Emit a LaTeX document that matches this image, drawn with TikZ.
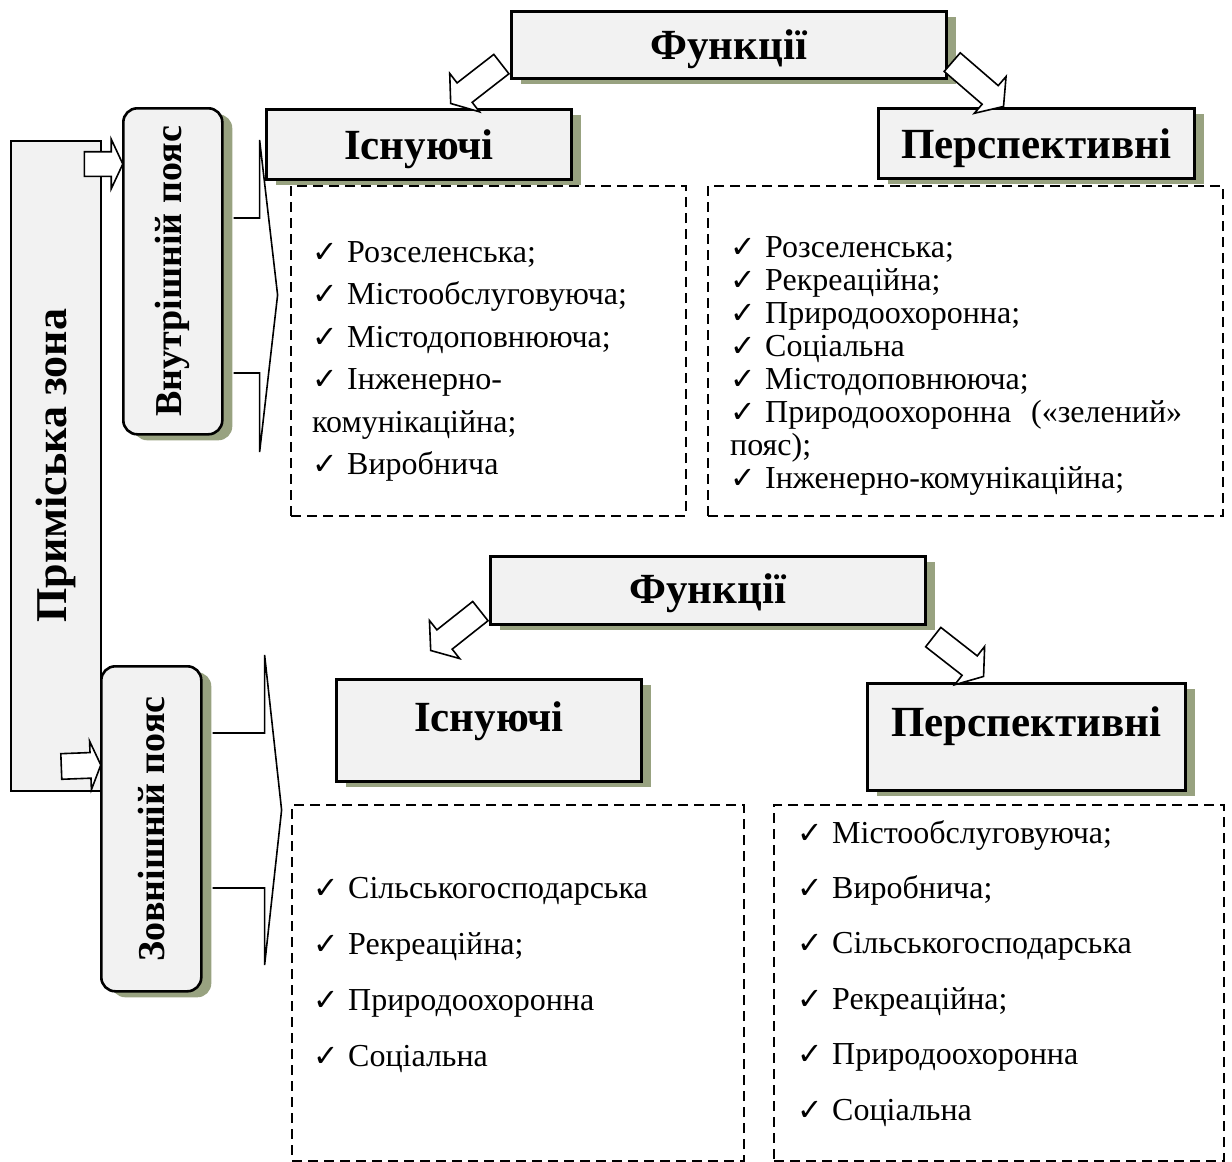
\documentclass[tikz,border=0pt]{standalone}
\usepackage{fontspec}
\setmainfont{Liberation Serif}
\newfontfamily\symfont{DejaVu Sans}[Scale=0.95]
\usepackage{graphicx}
\usepackage{tikz}
\usetikzlibrary{positioning, calc, shadows, shapes.arrows}

\definecolor{boxfill}{RGB}{242,242,242}
\definecolor{shadowc}{RGB}{152,162,128}

\newcommand\chk{\makebox[35pt][l]{\symfont ✓}}
\newcommand\itemfont{\fontsize{32}{33}\selectfont}
\newcommand\headfont{\bfseries\fontsize{43}{46}\selectfont}
\newcommand\beltfont{\bfseries\fontsize{38}{40}\selectfont}
\newcommand\zonefont{\bfseries\fontsize{44}{48}\selectfont}

\tikzset{
  head/.style={rectangle, draw, fill=boxfill, line width=2.6pt, inner sep=0pt, font=\headfont,
    anchor=north west, drop shadow={shadow xshift=10pt, shadow yshift=-6pt, fill=shadowc, opacity=1}},
  belt/.style={rectangle, draw, fill=boxfill, line width=2.6pt, rounded corners=14pt, inner sep=0pt,
    anchor=north west, drop shadow={shadow xshift=10pt, shadow yshift=-6pt, fill=shadowc, opacity=1}},
  zone/.style={rectangle, draw, fill=boxfill, line width=1.5pt, inner sep=0pt, anchor=north west},
  listbox/.style={rectangle, draw, line width=2.4pt, dash pattern=on 10pt off 6pt, anchor=north west},
  item/.style={anchor=base west, inner sep=0pt, font=\itemfont},
  callout/.style={line width=1.6pt},
  blockarr/.style={single arrow, draw, fill=white, line width=1.6pt, inner sep=0pt,
    text height=23pt, text depth=0pt, single arrow head extend=12pt,
    single arrow head indent=0pt, single arrow tip angle=108}
}

% hollow block arrow from #2 to #3
\newcommand\blockarrow[3][]{%
  \path let \p1=($(#3)-(#2)$), \n1={atan2(\y1,\x1)}, \n2={veclen(\x1,\y1)} in
    node[blockarr, #1, minimum height=\n2, rotate=\n1, anchor=tail] at (#2) {};}

\begin{document}
\begin{tikzpicture}[x=1pt, y=-1pt]
\useasboundingbox (0,0) rectangle (1232,1162);

% suburban zone and its two belts
\node[zone, minimum width=90pt, minimum height=650pt] (zone) at (10,140) {\rotatebox{90}{\zonefont Приміська зона}};
\node[belt, minimum width=99pt, minimum height=326pt] (in1) at (122,107) {\rotatebox{90}{\beltfont Внутрішній пояс}};
\node[belt, minimum width=100pt, minimum height=325pt] (out1) at (100,665) {\rotatebox{90}{\beltfont Зовнішній пояс}};

% headings, inner belt
\node[head, minimum width=435pt, text height=48pt, text depth=19pt] (fun1) at (510,10) {Функції};
\node[head, minimum width=305pt, text height=50pt, text depth=20pt] (ex1) at (265,108) {Існуючі};
\node[head, minimum width=316pt, text height=50pt, text depth=20pt] (pr1) at (877,107) {Перспективні};

% headings, outer belt
\node[head, minimum width=435pt, text height=47pt, text depth=21pt] (fun2) at (489,555) {Функції};
\node[head, minimum width=305pt, text height=52pt, text depth=50pt] (ex2) at (335,678) {Існуючі};
\node[head, minimum width=318pt, text height=53pt, text depth=54pt] (pr2) at (866,682) {Перспективні};

% dashed lists
\node[listbox, minimum width=395pt, minimum height=330pt] (l1) at (290,185) {};
\node[listbox, minimum width=515pt, minimum height=330pt] (l2) at (707,185) {};
\node[listbox, minimum width=452pt, minimum height=356pt] (l3) at (291,804) {};
\node[listbox, minimum width=450pt, minimum height=356pt] (l4) at (773,804) {};

\foreach \t [count=\i from 0] in {{\chk Розселенська;}, {\chk Містообслуговуюча;}, {\chk Містодоповнююча;},
    {\chk Інженерно-}, {комунікаційна;}, {\chk Виробнича}}
  \node[item] (l1i\i) at ($(l1.north west)+(22,{77+42.5*\i})$) {\t};

\foreach \t [count=\i from 0] in {{\chk Розселенська;}, {\chk Рекреаційна;}, {\chk Природоохоронна;},
    {\chk Соціальна}, {\chk Містодоповнююча;}, {\hbox to 452pt{\chk Природоохоронна\hfill(«зелений»}},
    {пояс);}, {\chk Інженерно-комунікаційна;}}
  \node[item] (l2i\i) at ($(l2.north west)+(23,{72+33*\i})$) {\t};

\foreach \t [count=\i from 0] in {{\chk Сільськогосподарська}, {\chk Рекреаційна;}, {\chk Природоохоронна},
    {\chk Соціальна}}
  \node[item] (l3i\i) at ($(l3.north west)+(22,{94+56*\i})$) {\t};

\foreach \t [count=\i from 0] in {{\chk Містообслуговуюча;}, {\chk Виробнича;}, {\chk Сільськогосподарська},
    {\chk Рекреаційна;}, {\chk Природоохоронна}, {\chk Соціальна}}
  \node[item] (l4i\i) at ($(l4.north west)+(24,{39+55.4*\i})$) {\t};

% callouts from the belts to the lists
\draw[callout] ($(in1.north east)+(10,111)$) -- ++(26,0) -- ++(0,-78) -- ++(18,155)
  -- ++(-18,157) -- ++(0,-79) -- ++(-26,0);
\draw[callout] ($(out1.north east)+(10,68)$) -- ++(52,0) -- ++(0,-78) -- ++(17,155)
  -- ++(-17,155) -- ++(0,-77) -- ++(-52,0);

% block arrows
\coordinate (a1) at ($(zone.north east)+(-18,24)$);
\coordinate (b1) at ($(in1.north west)+(0,57)$);
\coordinate (a2) at ($(zone.south east)+(-41,-25)$);
\coordinate (b2) at ($(out1.north west)+(0,100)$);
\blockarrow[single arrow head extend=12.5pt, single arrow tip angle=130]{a1}{b1}
\blockarrow[text height=24pt, single arrow head extend=11.5pt, single arrow tip angle=134]{a2}{b2}

\coordinate (a3) at ($(fun1.south west)+(-8,-16)$);
\coordinate (b3) at ($(ex1.north)+(32.5,-5)$);
\coordinate (a4) at ($(fun1.south east)+(4,-18)$);
\coordinate (b4) at ($(pr1.north west)+(126,-1)$);
\blockarrow{a3}{b3}
\blockarrow{a4}{b4}

\coordinate (a5) at ($(fun2.south west)+(-8,-15)$);
\coordinate (b5) at ($(ex2.north)+(-57.5,-28)$);
\coordinate (a6) at ($(fun2.south east)+(6,11)$);
\coordinate (b6) at ($(pr2.north west)+(117,-6)$);
\blockarrow{a5}{b5}
\blockarrow{a6}{b6}

\end{tikzpicture}
\end{document}
